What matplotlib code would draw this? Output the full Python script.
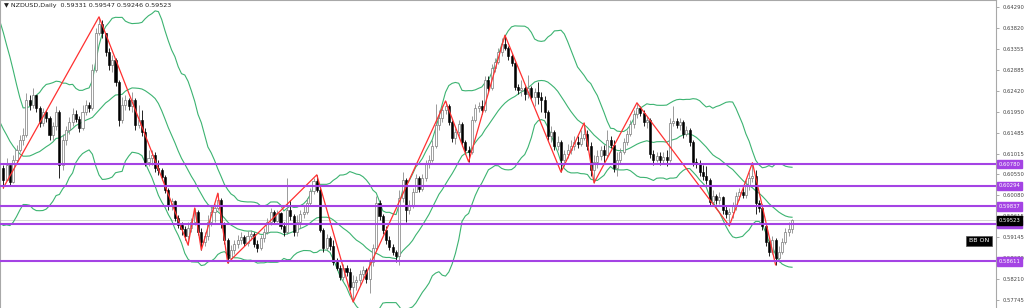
import numpy as np
import pandas as pd
import matplotlib
matplotlib.use('Agg')
import matplotlib.pyplot as plt
import matplotlib.transforms as mtransforms

# 20 closes before the first visible bar (only used to start the Bollinger bands)
warmup_close = [0.6350, 0.6340, 0.6320, 0.6310, 0.6300, 0.6280, 0.6250, 0.6220, 0.6200, 0.6170,
                0.6130, 0.6110, 0.6085, 0.6075, 0.6050, 0.6045, 0.6030, 0.6060, 0.6040, 0.6070]

# daily closes (open = previous close)
close = [
    0.6042, 0.6076, 0.6038, 0.6087, 0.6110, 0.6132, 0.6143, 0.6221, 0.6210, 0.6232,
    0.6203, 0.6170, 0.6194, 0.6181, 0.6143, 0.6163, 0.6194, 0.6076, 0.6132, 0.6154,
    0.6172, 0.6190, 0.6179, 0.6159, 0.6194, 0.6210, 0.6203, 0.6288, 0.6371, 0.6391,
    0.6371, 0.6328, 0.6299, 0.6311, 0.6261, 0.6177, 0.6210, 0.6221, 0.6208, 0.6221,
    0.6165, 0.6177, 0.6150, 0.6083, 0.6092, 0.6098, 0.6069, 0.6065, 0.6049, 0.6020,
    0.5984, 0.5996, 0.5958, 0.5942, 0.5933, 0.5917, 0.5935, 0.5949, 0.5971, 0.5926,
    0.5904, 0.5917, 0.5949, 0.5971, 0.5980, 0.5998, 0.5944, 0.5908, 0.5868, 0.5886,
    0.5900, 0.5908, 0.5915, 0.5902, 0.5917, 0.5922, 0.5900, 0.5891, 0.5913, 0.5926,
    0.5949, 0.5971, 0.5951, 0.5969, 0.5940, 0.5926, 0.5976, 0.5962, 0.5926, 0.5949,
    0.5967, 0.5971, 0.5991, 0.6018, 0.6040, 0.6020, 0.5931, 0.5891, 0.5913, 0.5895,
    0.5859, 0.5846, 0.5826, 0.5846, 0.5837, 0.5803, 0.5815, 0.5819, 0.5833, 0.5841,
    0.5821, 0.5859, 0.5891, 0.5991, 0.5962, 0.5931, 0.5908, 0.5893, 0.5882, 0.5873,
    0.6002, 0.6043, 0.5976, 0.5987, 0.6016, 0.6047, 0.6022, 0.6047, 0.6078, 0.6087,
    0.6118, 0.6165, 0.6181, 0.6199, 0.6208, 0.6172, 0.6136, 0.6150, 0.6168, 0.6127,
    0.6110, 0.6105, 0.6177, 0.6203, 0.6208, 0.6199, 0.6266, 0.6248, 0.6293, 0.6306,
    0.6328, 0.6346, 0.6337, 0.6320, 0.6304, 0.6250, 0.6244, 0.6248, 0.6235, 0.6248,
    0.6228, 0.6239, 0.6228, 0.6221, 0.6194, 0.6141, 0.6150, 0.6118, 0.6127, 0.6087,
    0.6101, 0.6110, 0.6118, 0.6127, 0.6123, 0.6136, 0.6145, 0.6118, 0.6065, 0.6083,
    0.6096, 0.6110, 0.6098, 0.6132, 0.6121, 0.6069, 0.6087, 0.6105, 0.6127, 0.6145,
    0.6168, 0.6190, 0.6203, 0.6192, 0.6172, 0.6177, 0.6101, 0.6087, 0.6096, 0.6087,
    0.6094, 0.6087, 0.6170, 0.6174, 0.6165, 0.6172, 0.6145, 0.6154, 0.6127, 0.6083,
    0.6078, 0.6060, 0.6051, 0.6042, 0.5993, 0.6007, 0.5998, 0.6005, 0.5976, 0.5967,
    0.5971, 0.5984, 0.6007, 0.6016, 0.6009, 0.6029, 0.6047, 0.6051, 0.5991, 0.5980,
    0.5940, 0.5904, 0.5882, 0.5908, 0.5868, 0.5882, 0.5904, 0.5926, 0.59331, 0.59523,
]

high = [
    0.6076, 0.6092, 0.6069, 0.6098, 0.6121, 0.6143, 0.6159, 0.6237, 0.6232, 0.6248,
    0.6226, 0.6208, 0.6203, 0.6199, 0.6185, 0.6172, 0.6208, 0.6199, 0.6145, 0.6163,
    0.6183, 0.6203, 0.6199, 0.6185, 0.6210, 0.6221, 0.6217, 0.6302, 0.6382, 0.6407,
    0.6400, 0.6363, 0.6337, 0.6322, 0.6315, 0.6266, 0.6228, 0.6232, 0.6226, 0.6239,
    0.6226, 0.6210, 0.6199, 0.6159, 0.6110, 0.6110, 0.6105, 0.6087, 0.6069, 0.6054,
    0.6025, 0.6002, 0.5998, 0.5964, 0.5949, 0.5940, 0.5949, 0.5958, 0.5980, 0.5976,
    0.5935, 0.5926, 0.5964, 0.5984, 0.5989, 0.6013, 0.6002, 0.5949, 0.5913, 0.5897,
    0.5908, 0.5920, 0.5926, 0.5920, 0.5929, 0.5931, 0.5926, 0.5908, 0.5920, 0.5935,
    0.5958, 0.5980, 0.5976, 0.5976, 0.5971, 0.5949, 0.6047, 0.5998, 0.5967, 0.5964,
    0.5976, 0.5987, 0.6002, 0.6025, 0.6047, 0.6054, 0.6025, 0.5935, 0.5922, 0.5917,
    0.5908, 0.5868, 0.5853, 0.5855, 0.5853, 0.5846, 0.5830, 0.5828, 0.5841, 0.5850,
    0.5846, 0.5868, 0.5900, 0.6007, 0.5998, 0.5967, 0.5940, 0.5917, 0.5900, 0.5886,
    0.6020, 0.6060, 0.6047, 0.5998, 0.6025, 0.6056, 0.6051, 0.6056, 0.6087, 0.6098,
    0.6132, 0.6212, 0.6199, 0.6210, 0.6219, 0.6212, 0.6177, 0.6159, 0.6177, 0.6172,
    0.6132, 0.6118, 0.6185, 0.6212, 0.6217, 0.6221, 0.6275, 0.6275, 0.6302, 0.6315,
    0.6337, 0.6360, 0.6366, 0.6342, 0.6324, 0.6306, 0.6257, 0.6266, 0.6253, 0.6277,
    0.6253, 0.6248, 0.6261, 0.6239, 0.6230, 0.6199, 0.6163, 0.6154, 0.6141, 0.6132,
    0.6110, 0.6123, 0.6132, 0.6141, 0.6141, 0.6154, 0.6170, 0.6154, 0.6127, 0.6098,
    0.6110, 0.6118, 0.6121, 0.6154, 0.6141, 0.6132, 0.6105, 0.6114, 0.6136, 0.6154,
    0.6177, 0.6199, 0.6215, 0.6208, 0.6199, 0.6185, 0.6181, 0.6110, 0.6105, 0.6105,
    0.6105, 0.6110, 0.6181, 0.6208, 0.6181, 0.6181, 0.6177, 0.6163, 0.6159, 0.6132,
    0.6092, 0.6087, 0.6076, 0.6074, 0.6047, 0.6020, 0.6011, 0.6016, 0.6007, 0.5984,
    0.5980, 0.5993, 0.6016, 0.6025, 0.6029, 0.6042, 0.6060, 0.6081, 0.6065, 0.5998,
    0.5989, 0.5944, 0.5908, 0.5917, 0.5913, 0.5895, 0.5913, 0.5935, 0.5949, 0.59547,
]

low = [
    0.6025, 0.6047, 0.6029, 0.6036, 0.6083, 0.6105, 0.6121, 0.6139, 0.6199, 0.6203,
    0.6194, 0.6161, 0.6163, 0.6172, 0.6132, 0.6132, 0.6154, 0.6047, 0.6065, 0.6121,
    0.6145, 0.6163, 0.6172, 0.6150, 0.6154, 0.6188, 0.6194, 0.6199, 0.6284, 0.6366,
    0.6360, 0.6320, 0.6288, 0.6284, 0.6253, 0.6163, 0.6170, 0.6199, 0.6199, 0.6194,
    0.6154, 0.6159, 0.6141, 0.6074, 0.6074, 0.6076, 0.6060, 0.6054, 0.6042, 0.6013,
    0.5976, 0.5976, 0.5951, 0.5935, 0.5920, 0.5908, 0.5897, 0.5926, 0.5942, 0.5920,
    0.5886, 0.5895, 0.5908, 0.5940, 0.5949, 0.5976, 0.5935, 0.5900, 0.5857, 0.5864,
    0.5877, 0.5891, 0.5900, 0.5895, 0.5895, 0.5908, 0.5893, 0.5882, 0.5886, 0.5904,
    0.5922, 0.5942, 0.5944, 0.5949, 0.5933, 0.5917, 0.5922, 0.5953, 0.5917, 0.5917,
    0.5935, 0.5958, 0.5967, 0.5984, 0.6011, 0.6016, 0.5926, 0.5882, 0.5886, 0.5886,
    0.5853, 0.5841, 0.5819, 0.5819, 0.5828, 0.5797, 0.5770, 0.5797, 0.5808, 0.5824,
    0.5812, 0.5790, 0.5850, 0.5886, 0.5953, 0.5922, 0.5900, 0.5886, 0.5875, 0.5859,
    0.5853, 0.5993, 0.5949, 0.5967, 0.5980, 0.6016, 0.6016, 0.6018, 0.6040, 0.6069,
    0.6083, 0.6114, 0.6154, 0.6172, 0.6190, 0.6165, 0.6127, 0.6123, 0.6141, 0.6118,
    0.6101, 0.6083, 0.6101, 0.6172, 0.6194, 0.6190, 0.6194, 0.6239, 0.6244, 0.6284,
    0.6302, 0.6320, 0.6333, 0.6311, 0.6297, 0.6244, 0.6235, 0.6230, 0.6221, 0.6226,
    0.6221, 0.6208, 0.6212, 0.6194, 0.6181, 0.6132, 0.6127, 0.6110, 0.6110, 0.6060,
    0.6074, 0.6092, 0.6101, 0.6110, 0.6114, 0.6118, 0.6132, 0.6110, 0.6051, 0.6036,
    0.6069, 0.6087, 0.6083, 0.6094, 0.6114, 0.6060, 0.6051, 0.6078, 0.6101, 0.6121,
    0.6141, 0.6159, 0.6181, 0.6185, 0.6163, 0.6159, 0.6092, 0.6076, 0.6083, 0.6076,
    0.6081, 0.6074, 0.6083, 0.6163, 0.6159, 0.6154, 0.6136, 0.6141, 0.6118, 0.6074,
    0.6069, 0.6051, 0.6042, 0.6034, 0.5984, 0.5989, 0.5989, 0.5989, 0.5967, 0.5958,
    0.5940, 0.5958, 0.5976, 0.5998, 0.6002, 0.6002, 0.6020, 0.6038, 0.5967, 0.5971,
    0.5931, 0.5895, 0.5873, 0.5877, 0.5853, 0.5859, 0.5877, 0.5900, 0.5917, 0.59246,
]

# zigzag turning points (bar index), starting from a low
zz_bars = [0, 29, 56, 58, 60, 65, 68, 95, 106, 134, 141, 152, 169, 176, 179, 192, 220, 227, 234]

levels = [0.60780, 0.60294, 0.59837, 0.59444, 0.58611]
level_labels = ['0.60780', '0.60294', '0.59837', '0.59444', '0.58611']
bid = 0.59523
yticks = [0.64290, 0.63820, 0.63355, 0.62885, 0.62420, 0.61950, 0.61485, 0.61015,
          0.60550, 0.60080, 0.59615, 0.59145, 0.58680, 0.58210, 0.57745]
header = '\u25bc NZDUSD,Daily  0.59331 0.59547 0.59246 0.59523'

W, H = 1024, 308
fig = plt.figure(figsize=(W / 100, H / 100), dpi=100)
fig.patch.set_facecolor('white')
ax = fig.add_axes([0, 0, 996 / W, 1])

n = len(close)
x = np.arange(n)
c = np.array(close)
o = np.r_[warmup_close[-1], c[:-1]]
hi = np.maximum(np.array(high), np.maximum(o, c))
lo = np.minimum(np.array(low), np.minimum(o, c))
up = c >= o

# bollinger bands 20, 2
s = pd.Series(warmup_close + close)
mid = s.rolling(20).mean().values
sd = s.rolling(20).std(ddof=0).values
bx = np.arange(-len(warmup_close), n)
m = bx >= -1
green = '#3cb371'
ax.plot(bx[m], mid[m], color=green, lw=0.8, zorder=2)
ax.plot(bx[m], mid[m] + 2 * sd[m], color=green, lw=0.8, zorder=2)
ax.plot(bx[m], mid[m] - 2 * sd[m], color=green, lw=0.8, zorder=2)

# candles: white bodies with grey edge for up days, black for down days
ax.vlines(x[up], lo[up], hi[up], color='#8a8a8a', lw=0.6, zorder=3)
ax.vlines(x[~up], lo[~up], hi[~up], color='black', lw=0.6, zorder=3)
body = np.maximum(np.abs(c - o), 0.00008)
ax.bar(x[up], body[up], bottom=np.minimum(o, c)[up], width=0.62,
       facecolor='white', edgecolor='#7a7a7a', lw=0.5, zorder=4)
ax.bar(x[~up], body[~up], bottom=np.minimum(o, c)[~up], width=0.62,
       facecolor='black', edgecolor='black', lw=0.4, zorder=4)

# zigzag
zz_y = [lo[b] if k % 2 == 0 else hi[b] for k, b in enumerate(zz_bars)]
ax.plot(zz_bars, zz_y, color='#ff3030', lw=0.9, zorder=5)

# levels and bid line
purple = '#a443e4'
for lv in levels:
    ax.axhline(lv, color=purple, lw=1.5, zorder=6)
ax.axhline(bid, color='#d0d0d0', lw=0.6, zorder=1)

ax.set_xlim(-1, 300.8)
ax.set_ylim(0.57565, 0.64446)
ax.set_xticks([])
ax.yaxis.tick_right()
ax.set_yticks(yticks)
ax.set_yticklabels(['%.5f' % t for t in yticks])
ax.tick_params(axis='y', length=2.5, width=0.5, color='#888888', labelsize=3.8,
               labelcolor='#444444', pad=2)
for side in ['top', 'left', 'right']:
    ax.spines[side].set_color('#a8a8a8')
    ax.spines[side].set_linewidth(0.8)
ax.spines['bottom'].set_visible(False)

trans = mtransforms.blended_transform_factory(ax.transAxes, ax.transData)
for lv, lab in zip(levels, level_labels):
    ax.text(1.0025, lv, lab, transform=trans, fontsize=3.8, color='white', va='center', ha='left',
            bbox=dict(boxstyle='square,pad=0.35', facecolor=purple, edgecolor=purple),
            clip_on=False, zorder=10)
ax.text(1.0025, bid, '0.59523', transform=trans, fontsize=3.8, color='white', va='center', ha='left',
        bbox=dict(boxstyle='square,pad=0.35', facecolor='black', edgecolor='black'),
        clip_on=False, zorder=11)

fig.text(4 / W, 1 - 5.5 / H, header, fontsize=4.6, color='#222222', va='center', ha='left')
fig.text(979 / W, 1 - 241 / H, 'BB ON', fontsize=4.5, color='white', va='center', ha='center',
         bbox=dict(boxstyle='square,pad=0.4', facecolor='black', edgecolor='#555555', lw=0.5))

fig.savefig('out.png', dpi=100)
